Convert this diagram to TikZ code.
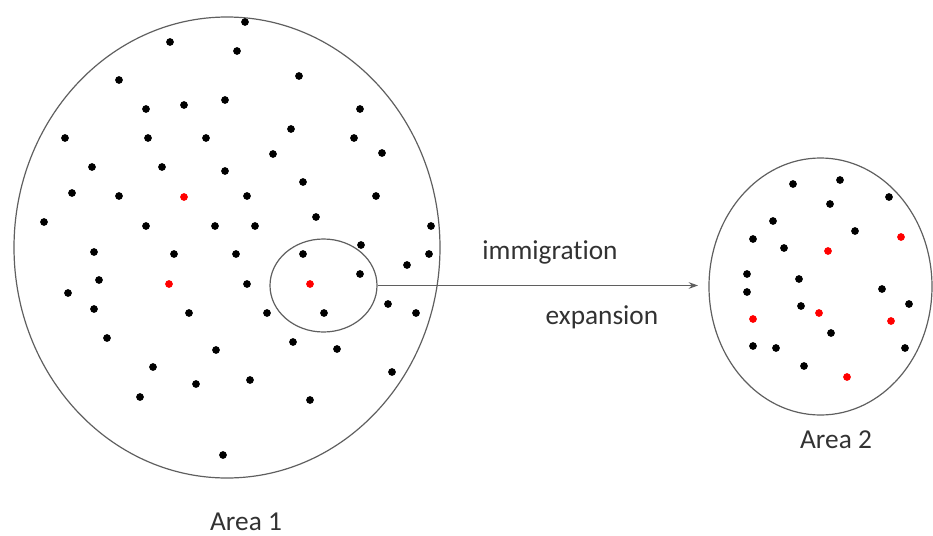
\documentclass[tikz,border=0pt]{standalone}
\usepackage{fontspec}
\setmainfont{Carlito}[Ligatures={NoCommon}]
\usepackage{tikz}
\usetikzlibrary{calc,positioning,shapes.geometric,arrows.meta}
\usepackage{xcolor}
\definecolor{rim}{RGB}{95,95,95}
\definecolor{ink}{RGB}{50,50,50}

\begin{document}
\begin{tikzpicture}[x=0.75pt, y=-0.75pt,
    area/.style={draw=rim, line width=0.9pt, ellipse, inner sep=0pt},
    dot/.style={circle, fill=black, inner sep=0pt, minimum size=5.8pt},
    hot/.style={circle, fill=red, inner sep=0pt, minimum size=5.8pt},
    lbl/.style={text=ink, inner sep=0pt, font=\fontsize{20.5}{24}\selectfont}]
        \useasboundingbox (0,0) rectangle (933,536);

        % Define areas
        \node[area, minimum width=319.5pt, minimum height=345.75pt] (area1) at (227, 247.5) {};
        \node[area, minimum width=80.25pt, minimum height=69.75pt] (small) at (323.5, 285.5) {};
        \node[area, minimum width=167.25pt, minimum height=192.75pt] (area2) at (820.5, 286.5) {};

        % Individuals in area 1
        \foreach \x/\y [count=\i] in {
            170/42, 237/51, 245/22, 119/80, 146/109, 184/105, 225/100, 299/76,
            360/109, 65/138, 148/138, 206/138, 291/129, 354/138, 92/167, 162/167,
            225/171, 273/154, 382/153, 72/193, 119/196, 247/196, 303/182, 376/196,
            44/222, 146/226, 215/226, 255/226, 316/217, 431/226, 94/252, 174/254,
            236/254, 303/254, 361/245, 429/254, 407/265, 360/274, 99/280, 68/293,
            247/284, 94/309, 189/313, 267/313, 324/313, 388/304, 416/313, 107/338,
            216/350, 293/342, 337/349, 153/367, 196/384, 140/397, 250/380, 310/400,
            392/372, 223/455
        } {
            \node[dot] (a\i) at (\x, \y) {};
        }
        \foreach \x/\y [count=\i] in {184/197, 169/284, 310/284} {
            \node[hot] (r\i) at (\x, \y) {};
        }

        % Individuals in area 2
        \foreach \x/\y [count=\i] in {
            793/184, 840/180, 889/197, 830/204, 773/221, 855/231, 753/239,
            784/248, 747/274, 799/279, 747/292, 882/289, 909/304, 801/306,
            831/333, 753/346, 776/348, 905/348, 804/366
        } {
            \node[dot] (b\i) at (\x, \y) {};
        }
        \foreach \x/\y [count=\i] in {901/237, 828/251, 819/313, 753/319, 891/321, 847/377} {
            \node[hot] (s\i) at (\x, \y) {};
        }

        % Movement from area 1 to area 2
        \coordinate (tip) at (698, 285.5);
        \draw[rim, line width=0.9pt, -{Stealth[length=7pt, width=5pt]}] (small.east) -- (tip);

        % Labels
        \node[lbl] (imm) at (550, 252) {immigration};
        \node[lbl] (exp) at (602, 317) {expansion};
        \node[lbl] (name1) at (246, 522) {Area 1};
        \node[lbl] (name2) at (836, 440) {Area 2};
    \end{tikzpicture}
\end{document}
